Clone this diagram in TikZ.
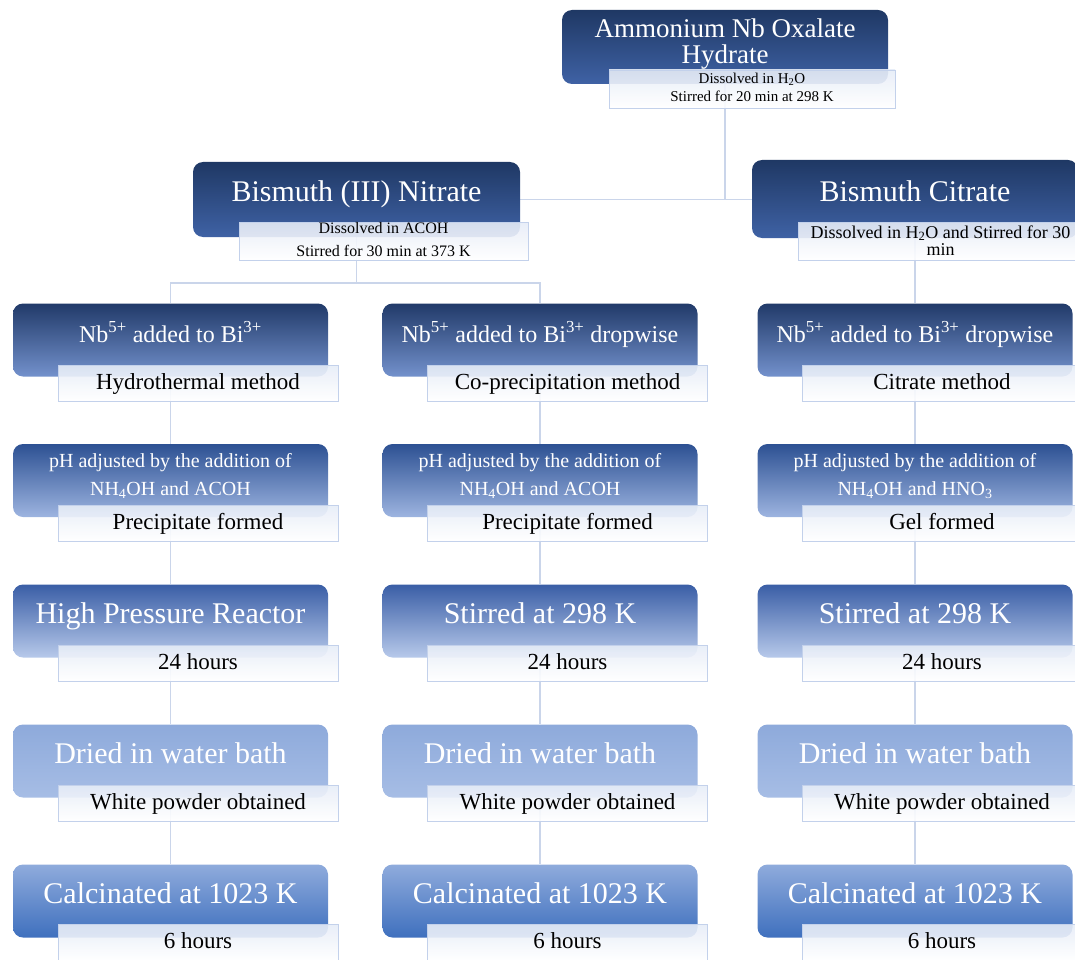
\documentclass[tikz,border=0pt]{standalone}
\usepackage{fontspec}
\setmainfont{Liberation Serif}
\usetikzlibrary{backgrounds}

\definecolor{navytop}{HTML}{1F3864}
\definecolor{navymid}{HTML}{223E6F}
\definecolor{navybot}{HTML}{3F62A5}
\definecolor{atop}{HTML}{213A69}
\definecolor{amid}{HTML}{2C4D8C}
\definecolor{abot}{HTML}{7391CC}
\definecolor{btop}{HTML}{2D5193}
\definecolor{bmid}{HTML}{30579A}
\definecolor{bbot}{HTML}{9DB4E0}
\definecolor{ctop}{HTML}{3A5EA6}
\definecolor{cmid}{HTML}{6786C5}
\definecolor{cbot}{HTML}{B7C9EA}
\definecolor{dtop}{HTML}{8EAADB}
\definecolor{dbot}{HTML}{A6BDE5}
\definecolor{etop}{HTML}{8FABDC}
\definecolor{emid}{HTML}{7094D1}
\definecolor{ebot}{HTML}{3F70BE}
\definecolor{noteedge}{HTML}{C3D1EB}
\definecolor{notetop}{HTML}{E6ECF7}
\definecolor{linkblue}{HTML}{CAD5EA}

\begin{document}
\begin{tikzpicture}[x=1pt,y=-1pt,
  stage/.style={rounded corners=10pt, inner sep=0pt, text=white,
    minimum width=315pt, minimum height=73pt},
  bigtext/.style={font=\fontsize{30}{31}\selectfont, text height=20pt, text depth=16pt},
  midtext/.style={font=\fontsize{24}{25}\selectfont, text height=16.5pt, text depth=12.5pt},
  phtext/.style={font=\fontsize{20}{28}\selectfont, align=center, text depth=11.5pt},
  source/.style={top color=navytop, middle color=navymid, bottom color=navybot},
  rowa/.style={top color=atop, middle color=amid, bottom color=abot},
  rowb/.style={top color=btop, middle color=bmid, bottom color=bbot},
  rowc/.style={top color=ctop, middle color=cmid, bottom color=cbot},
  rowd/.style={top color=dtop, middle color=dtop, bottom color=dbot},
  rowe/.style={top color=etop, middle color=emid, bottom color=ebot},
  note/.style={draw=noteedge, top color=notetop, bottom color=white,
    fill opacity=0.9, text opacity=1, inner sep=0pt,
    minimum width=280pt, minimum height=36pt},
  noteline/.style={font=\fontsize{23}{25}\selectfont, text height=15pt, text depth=3pt},
  link/.style={draw=linkblue, line width=1.2pt}]

  \useasboundingbox (0,0) rectangle (1075,960);
  \clip (0,0) rectangle (1075,960);

  % Starting materials
  \node[stage, source, minimum width=326pt, minimum height=74pt,
        font=\fontsize{27}{26.7}\selectfont, align=center, text depth=12pt]
        (ox) at (725,47) {Ammonium Nb Oxalate\\Hydrate};
  \node[stage, source, bigtext, minimum width=327pt, minimum height=75pt]
        (nitrate) at (356.5,199.5) {Bismuth (III) Nitrate};
  \node[stage, source, bigtext, minimum width=326pt, minimum height=78pt]
        (citrate) at (915,199) {Bismuth Citrate};

  \node[note, minimum width=286pt, minimum height=38pt,
        font=\fontsize{15}{18.4}\selectfont, align=center, text depth=3pt]
        (oxnote) at (752,89) {Dissolved in H\textsubscript{2}O\\Stirred for 20 min at 298 K};
  \node[note, minimum width=289pt, minimum height=38pt,
        font=\fontsize{16}{22.7}\selectfont, align=center, text depth=3pt]
        (nitratenote) at (383.5,241) {Dissolved in ACOH\\Stirred for 30 min at 373 K};
  \node[note, minimum width=285pt, minimum height=38pt,
        font=\fontsize{18}{17}\selectfont, align=center, text depth=1pt]
        (citratenote) at (940.5,241) {Dissolved in H\textsubscript{2}O and Stirred for 30\\min};

  % Hydrothermal route
  \node[stage, rowa, midtext] (hyd1) at (170.5,340) {Nb\textsuperscript{5+} added to Bi\textsuperscript{3+}};
  \node[stage, rowb, phtext]  (hyd2) at (170.5,480.5) {pH adjusted by the addition of\\NH\textsubscript{4}OH and ACOH};
  \node[stage, rowc, bigtext] (hyd3) at (170.5,621) {High Pressure Reactor};
  \node[stage, rowd, bigtext] (hyd4) at (170.5,761) {Dried in water bath};
  \node[stage, rowe, bigtext] (hyd5) at (170.5,901) {Calcinated at 1023 K};

  \node[note, noteline] (hyd1n) at (198,383)   {Hydrothermal method};
  \node[note, noteline] (hyd2n) at (198,523)   {Precipitate formed};
  \node[note, noteline] (hyd3n) at (198,663)   {24 hours};
  \node[note, noteline] (hyd4n) at (198,803)   {White powder obtained};
  \node[note, noteline] (hyd5n) at (198,942.5) {6 hours};

  % Co-precipitation route
  \node[stage, rowa, midtext] (cop1) at (540,340) {Nb\textsuperscript{5+} added to Bi\textsuperscript{3+} dropwise};
  \node[stage, rowb, phtext]  (cop2) at (540,480.5) {pH adjusted by the addition of\\NH\textsubscript{4}OH and ACOH};
  \node[stage, rowc, bigtext] (cop3) at (540,621) {Stirred at 298 K};
  \node[stage, rowd, bigtext] (cop4) at (540,761) {Dried in water bath};
  \node[stage, rowe, bigtext] (cop5) at (540,901) {Calcinated at 1023 K};

  \node[note, noteline] (cop1n) at (567.5,383)   {Co-precipitation method};
  \node[note, noteline] (cop2n) at (567.5,523)   {Precipitate formed};
  \node[note, noteline] (cop3n) at (567.5,663)   {24 hours};
  \node[note, noteline] (cop4n) at (567.5,803)   {White powder obtained};
  \node[note, noteline] (cop5n) at (567.5,942.5) {6 hours};

  % Citrate route
  \node[stage, rowa, midtext] (cit1) at (915,340) {Nb\textsuperscript{5+} added to Bi\textsuperscript{3+} dropwise};
  \node[stage, rowb, phtext]  (cit2) at (915,480.5) {pH adjusted by the addition of\\NH\textsubscript{4}OH and HNO\textsubscript{3}};
  \node[stage, rowc, bigtext] (cit3) at (915,621) {Stirred at 298 K};
  \node[stage, rowd, bigtext] (cit4) at (915,761) {Dried in water bath};
  \node[stage, rowe, bigtext] (cit5) at (915,901) {Calcinated at 1023 K};

  \node[note, noteline] (cit1n) at (942,383)   {Citrate method};
  \node[note, noteline] (cit2n) at (942,523)   {Gel formed};
  \node[note, noteline] (cit3n) at (942,663)   {24 hours};
  \node[note, noteline] (cit4n) at (942,803)   {White powder obtained};
  \node[note, noteline] (cit5n) at (942,942.5) {6 hours};

  % Connectors behind the boxes
  \coordinate (split) at (356.5,283);
  \begin{scope}[on background layer]
    \draw[link] (ox.south) -- (ox.south |- nitrate.east);
    \draw[link] (nitrate.east) -- (nitrate.east -| citrate.west);
    \draw[link] (nitrate.south) -- (split);
    \draw[link] (hyd1.north) |- (split) -| (cop1.north);
    \draw[link] (citrate.south) -- (cit1.north);

    \draw[link] (hyd1.south) -- (hyd2.north);
    \draw[link] (hyd2.south) -- (hyd3.north);
    \draw[link] (hyd3.south) -- (hyd4.north);
    \draw[link] (hyd4.south) -- (hyd5.north);

    \draw[link] (cop1.south) -- (cop2.north);
    \draw[link] (cop2.south) -- (cop3.north);
    \draw[link] (cop3.south) -- (cop4.north);
    \draw[link] (cop4.south) -- (cop5.north);

    \draw[link] (cit1.south) -- (cit2.north);
    \draw[link] (cit2.south) -- (cit3.north);
    \draw[link] (cit3.south) -- (cit4.north);
    \draw[link] (cit4.south) -- (cit5.north);
  \end{scope}
\end{tikzpicture}
\end{document}
